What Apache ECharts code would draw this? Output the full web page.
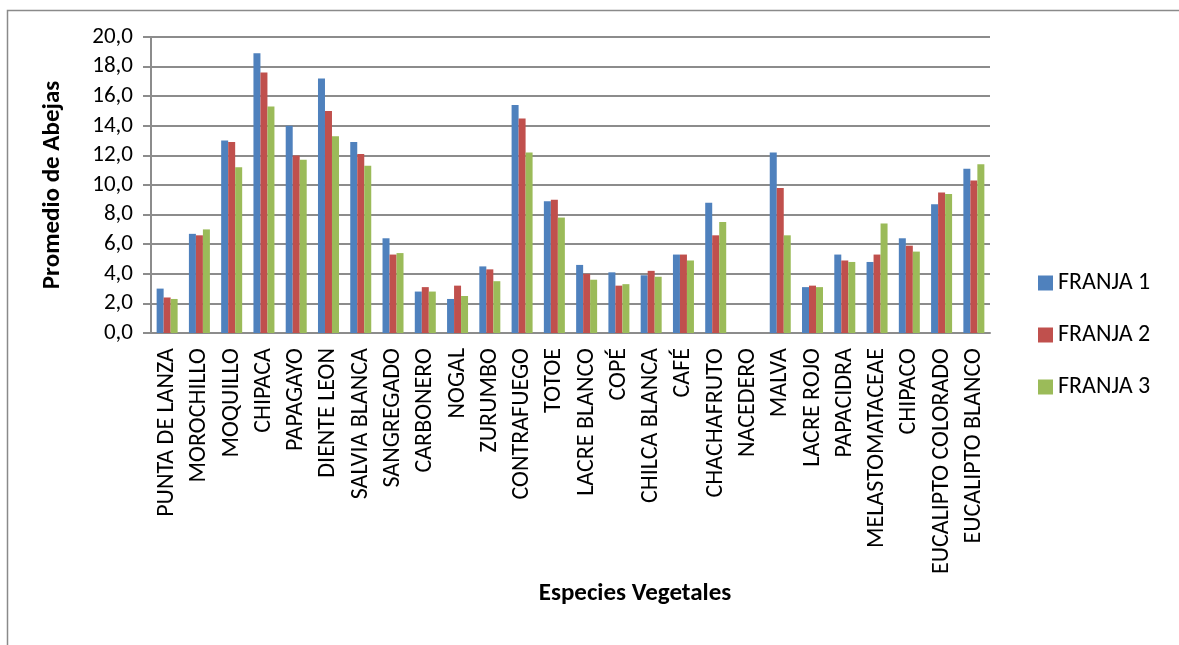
<!DOCTYPE html>
<html>
<head>
<meta charset="utf-8">
<script src="https://cdn.jsdelivr.net/npm/echarts@6/dist/echarts.min.js"></script>
<style>
  html, body { margin: 0; padding: 0; background: #fff; }
  #chart { width: 1179px; height: 645px; }
</style>
</head>
<body>
<div id="chart"></div>
<script>
// Especies vegetales (categorías del eje X)
const especies = [
    'PUNTA DE LANZA', 'MOROCHILLO', 'MOQUILLO', 'CHIPACA', 'PAPAGAYO',
    'DIENTE LEON', 'SALVIA BLANCA', 'SANGREGADO', 'CARBONERO', 'NOGAL',
    'ZURUMBO', 'CONTRAFUEGO', 'TOTOE', 'LACRE BLANCO', 'COPÉ',
    'CHILCA BLANCA', 'CAFÉ', 'CHACHAFRUTO', 'NACEDERO', 'MALVA',
    'LACRE ROJO', 'PAPACIDRA', 'MELASTOMATACEAE', 'CHIPACO',
    'EUCALIPTO COLORADO', 'EUCALIPTO BLANCO'
]

const franja1 = [3.0, 6.7, 13.0, 18.9, 14.0, 17.2, 12.9, 6.4, 2.8, 2.3, 4.5, 15.4, 8.9, 4.6, 4.1, 3.9, 5.3, 8.8, 0, 12.2, 3.1, 5.3, 4.8, 6.4, 8.7, 11.1]
const franja2 = [2.4, 6.6, 12.9, 17.6, 12.0, 15.0, 12.1, 5.3, 3.1, 3.2, 4.3, 14.5, 9.0, 4.0, 3.2, 4.2, 5.3, 6.6, 0, 9.8, 3.2, 4.9, 5.3, 5.9, 9.5, 10.3]
const franja3 = [2.3, 7.0, 11.2, 15.3, 11.7, 13.3, 11.3, 5.4, 2.8, 2.5, 3.5, 12.2, 7.8, 3.6, 3.3, 3.8, 4.9, 7.5, 0, 6.6, 3.1, 4.8, 7.4, 5.5, 9.4, 11.4]

const seriesNames = ['FRANJA 1', 'FRANJA 2', 'FRANJA 3']
const seriesColors = ['#4F81BD', '#C0504D', '#9BBB59']
const yTicks = { min: 0, max: 20, interval: 2 }

const font = "Carlito, 'Liberation Sans', Arial, sans-serif"
const gray = '#8c8c8c'

let chart = echarts.init(document.getElementById('chart'), null, { renderer: 'canvas' })

let options = {
    animation: false,
    backgroundColor: '#ffffff',
    textStyle: { fontFamily: font, color: '#000' },
    graphic: [
        {
            type: 'rect',
            left: 5, top: 8,
            shape: { width: 1200, height: 700 },
            style: { fill: 'none', stroke: '#8a8a8a', lineWidth: 1.5 },
            silent: true,
        }
    ],
    title: {
        text: 'Especies Vegetales',
        left: 630,
        top: 576,
        textAlign: 'center',
        textStyle: { fontFamily: font, fontSize: 25, fontWeight: 'bold', color: '#000' },
    },
    legend: {
        orient: 'vertical',
        left: 1033,
        top: 266,
        itemWidth: 15,
        itemHeight: 15,
        itemGap: 28,
        icon: 'rect',
        textStyle: { fontFamily: font, fontSize: 24, color: '#000', lineHeight: 20 },
        data: seriesNames,
    },
    grid: { left: 151, right: 189, top: 37, bottom: 312 },
    xAxis: {
        type: 'category',
        data: especies,
        axisLine: { lineStyle: { color: gray, width: 2 } },
        axisTick: { show: false },
        axisLabel: {
            interval: 0,
            rotate: 90,
            margin: 15,
            fontFamily: font,
            fontSize: 24,
            color: '#000',
        },
    },
    yAxis: {
        type: 'value',
        min: yTicks.min,
        max: yTicks.max,
        interval: yTicks.interval,
        name: 'Promedio de Abejas',
        nameLocation: 'middle',
        nameGap: 86,
        nameTextStyle: { fontFamily: font, fontSize: 25, fontWeight: 'bold', color: '#000' },
        axisLine: { show: true, lineStyle: { color: gray, width: 2 } },
        axisTick: { show: true, length: 8, lineStyle: { color: gray, width: 2 } },
        splitLine: { lineStyle: { color: gray, width: 2 } },
        axisLabel: {
            margin: 18,
            fontFamily: font,
            fontSize: 23,
            color: '#000',
            formatter: (v) => v.toFixed(1).replace('.', ','),
        },
    },
    series: [franja1, franja2, franja3].map((vals, i) => ({
        name: seriesNames[i],
        type: 'bar',
        data: vals,
        barWidth: 7,
        barGap: '0%',
        itemStyle: { color: seriesColors[i] },
    })),
}

chart.setOption(options)
</script>
</body>
</html>
